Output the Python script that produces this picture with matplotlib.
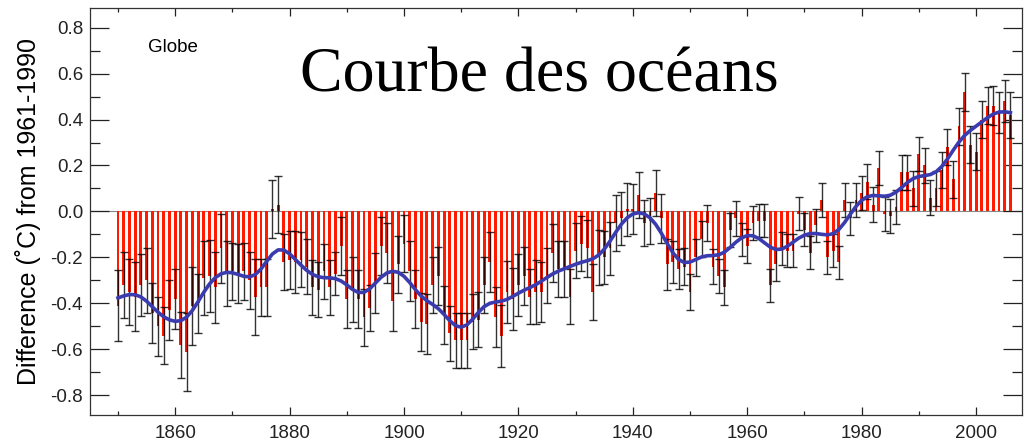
import numpy as np
import matplotlib
matplotlib.use("Agg")
import matplotlib.pyplot as plt
from matplotlib.ticker import MultipleLocator

# annual global anomalies 1850-2006 (deg C, rel. 1961-1990)
years = np.arange(1850, 2007)
anomaly = [
    -0.41, -0.32, -0.35, -0.37, -0.32, -0.30, -0.44, -0.50, -0.54, -0.43,  # 1850s
    -0.38, -0.58, -0.61, -0.41, -0.40, -0.29, -0.28, -0.33, -0.16, -0.27,  # 1860s
    -0.26, -0.27, -0.26, -0.30, -0.37, -0.33, -0.33, 0.01, 0.03, -0.22,    # 1870s
    -0.21, -0.22, -0.21, -0.24, -0.33, -0.34, -0.26, -0.33, -0.27, -0.15,  # 1880s
    -0.38, -0.34, -0.38, -0.46, -0.42, -0.31, -0.15, -0.18, -0.39, -0.23,  # 1890s
    -0.14, -0.26, -0.38, -0.48, -0.49, -0.32, -0.28, -0.45, -0.53, -0.56,  # 1900s
    -0.56, -0.56, -0.48, -0.47, -0.32, -0.22, -0.46, -0.54, -0.35, -0.38,  # 1910s
    -0.32, -0.28, -0.37, -0.35, -0.35, -0.28, -0.18, -0.25, -0.25, -0.37,  # 1920s
    -0.17, -0.14, -0.16, -0.35, -0.20, -0.20, -0.16, -0.05, -0.03, 0.01,   # 1930s
    0.01, 0.07, -0.05, -0.04, 0.08, -0.03, -0.23, -0.22, -0.25, -0.24,     # 1940s
    -0.35, -0.20, -0.12, -0.05, -0.24, -0.28, -0.33, -0.08, -0.03, -0.12,  # 1950s
    -0.15, -0.05, -0.04, -0.04, -0.32, -0.23, -0.16, -0.17, -0.17, -0.01,  # 1960s
    -0.08, -0.18, -0.06, 0.05, -0.20, -0.17, -0.22, 0.05, -0.03, 0.05,     # 1970s
    0.08, 0.13, 0.03, 0.19, -0.01, -0.02, 0.02, 0.17, 0.17, 0.10,          # 1980s
    0.25, 0.20, 0.06, 0.10, 0.18, 0.28, 0.14, 0.37, 0.52, 0.29,            # 1990s
    0.26, 0.40, 0.46, 0.46, 0.43, 0.48, 0.42,                              # 2000s
]
# half width of the 95% range
uncert = [
    0.155, 0.145, 0.145, 0.15, 0.135, 0.14, 0.13, 0.13, 0.125, 0.13,
    0.13, 0.145, 0.17, 0.17, 0.13, 0.16, 0.155, 0.155, 0.15, 0.14,
    0.125, 0.13, 0.125, 0.125, 0.165, 0.125, 0.125, 0.125, 0.125, 0.12,
    0.125, 0.135, 0.12, 0.12, 0.12, 0.12, 0.12, 0.12, 0.095, 0.125,
    0.125, 0.14, 0.125, 0.125, 0.10, 0.13, 0.125, 0.13, 0.13, 0.125,
    0.125, 0.13, 0.125, 0.125, 0.13, 0.12, 0.125, 0.125, 0.12, 0.12,
    0.12, 0.12, 0.12, 0.12, 0.12, 0.13, 0.13, 0.135, 0.135, 0.135,
    0.135, 0.125, 0.12, 0.14, 0.13, 0.12, 0.125, 0.12, 0.12, 0.12,
    0.12, 0.12, 0.125, 0.12, 0.12, 0.115, 0.115, 0.12, 0.115, 0.115,
    0.11, 0.10, 0.10, 0.10, 0.10, 0.105, 0.11, 0.09, 0.085, 0.08,
    0.08, 0.08, 0.08, 0.08, 0.075, 0.075, 0.075, 0.075, 0.075, 0.072,
    0.072, 0.072, 0.072, 0.072, 0.072, 0.072, 0.072, 0.072, 0.072, 0.072,
    0.072, 0.072, 0.072, 0.072, 0.072, 0.072, 0.072, 0.072, 0.072, 0.072,
    0.075, 0.075, 0.075, 0.075, 0.075, 0.075, 0.075, 0.075, 0.075, 0.075,
    0.075, 0.075, 0.075, 0.078, 0.078, 0.078, 0.08, 0.08, 0.082, 0.08,
    0.08, 0.08, 0.08, 0.085, 0.09, 0.09, 0.10,
]

anomaly = np.array(anomaly)
uncert = np.array(uncert)

# 21 point binomial filter, ends padded with the mean of the end ten years
w = np.array([1.0])
for i in range(20):
    w = np.convolve(w, [0.5, 0.5])
pad_l = np.full(10, anomaly[:10].mean())
pad_r = np.full(10, anomaly[-10:].mean())
smooth = np.convolve(np.concatenate([pad_l, anomaly, pad_r]), w, mode="valid")

fig = plt.figure(figsize=(10.27, 4.42), dpi=100)
ax = fig.add_axes([0.0876, 0.061, 0.9074, 0.921])

ax.bar(years, anomaly, width=0.5, color="#ff1a00", zorder=2)
ax.axhline(0, color="#888888", lw=0.8, zorder=1)
ax.errorbar(years, anomaly, yerr=uncert, fmt="none", ecolor="black",
            elinewidth=1.0, capsize=2.6, capthick=1.0, alpha=0.8, zorder=3)
ax.plot(years, smooth, color="#3b3bb0", lw=2.6, zorder=4)

ax.set_xlim(1845.1, 2008.0)
ax.set_ylim(-0.885, 0.885)
ax.xaxis.set_major_locator(MultipleLocator(20))
ax.xaxis.set_minor_locator(MultipleLocator(10))
ax.yaxis.set_major_locator(MultipleLocator(0.2))
ax.yaxis.set_minor_locator(MultipleLocator(0.1))
ax.yaxis.set_major_formatter(matplotlib.ticker.FormatStrFormatter("%.1f"))

ax.tick_params(axis="both", which="both", direction="in", top=True, right=True,
               labelsize=13.5, width=0.9, colors="#222222")
ax.tick_params(axis="y", which="major", length=14, pad=5)
ax.tick_params(axis="y", which="minor", length=7)
ax.tick_params(axis="x", which="major", length=6, pad=7)
ax.tick_params(axis="x", which="minor", length=3)
for s in ax.spines.values():
    s.set_linewidth(0.9)
    s.set_color("#333333")

for lab in ax.get_xticklabels() + ax.get_yticklabels():
    lab.set_family("Liberation Sans")

ax.set_ylabel("Difference (\u02daC) from 1961-1990", fontsize=18,
              family="Liberation Sans", labelpad=7)
ax.text(0.062, 0.892, "Globe", transform=ax.transAxes, fontsize=13.5,
        family="Liberation Sans", va="baseline")
ax.text(0.482, 0.794, "Courbe des oc\u00e9ans", transform=ax.transAxes,
        fontsize=46, family="Liberation Serif", ha="center", va="baseline")

fig.savefig("out.png", dpi=100)
